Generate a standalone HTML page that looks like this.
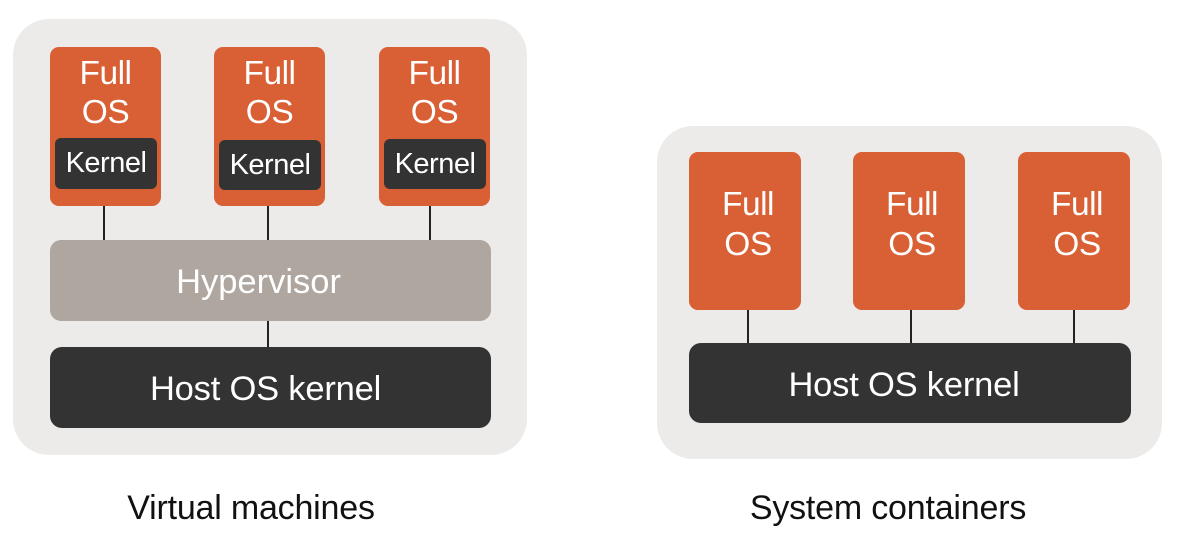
<!DOCTYPE html>
<html><head><style>
body{margin:0;width:1190px;height:538px;background:#fff;position:relative;overflow:hidden;font-family:"Liberation Sans",sans-serif}
div{position:absolute;box-sizing:border-box}
.bg{background:#edebe9;border-radius:36px}
.or{background:#d95f34;border-radius:9px;color:#fff;font-size:33.5px;line-height:39px;text-align:center;letter-spacing:-0.5px}
.k{background:#333;border-radius:6px;color:#fff;font-size:29px;line-height:51px;text-align:center;letter-spacing:-0.5px}
.host{background:#333;border-radius:12px;color:#fff;font-size:34.5px;text-align:center;letter-spacing:-0.2px}
.ln{width:1.5px;background:#222}
.cap{font-size:34px;color:#111;text-align:center;letter-spacing:-0.2px}
</style></head><body>
<div class="bg" style="left:13px;top:19px;width:514px;height:436px"></div>
<div class="ln" style="left:103px;top:200px;height:45px"></div>
<div class="ln" style="left:267px;top:200px;height:45px"></div>
<div class="ln" style="left:429px;top:200px;height:45px"></div>
<div class="ln" style="left:267px;top:318px;height:32px"></div>
<div class="or" style="left:50px;top:47px;width:111px;height:159px;padding-top:7px">Full<br>OS</div>
<div class="k" style="left:55px;top:138px;width:102px;height:51px">Kernel</div>
<div class="or" style="left:214px;top:47px;width:111px;height:159px;padding-top:7px">Full<br>OS</div>
<div class="k" style="left:219px;top:140px;width:102px;height:50px">Kernel</div>
<div class="or" style="left:379px;top:47px;width:111px;height:159px;padding-top:7px">Full<br>OS</div>
<div class="k" style="left:384px;top:139px;width:102px;height:50px">Kernel</div>
<div style="left:50px;top:240px;width:441px;height:81px;background:#aea69f;border-radius:11px;color:#fff;font-size:34.5px;line-height:84px;text-align:center;letter-spacing:0px;padding-right:24px">Hypervisor</div>
<div class="host" style="left:50px;top:347px;width:441px;height:81px;line-height:84px;padding-right:10px">Host OS kernel</div>
<div class="cap" style="left:51px;top:489px;width:400px">Virtual machines</div>

<div class="bg" style="left:657px;top:126px;width:505px;height:333px"></div>
<div class="ln" style="left:747px;top:305px;height:40px"></div>
<div class="ln" style="left:910px;top:305px;height:40px"></div>
<div class="ln" style="left:1073px;top:305px;height:40px"></div>
<div class="or" style="left:689px;top:152px;width:112px;height:158px;padding-top:33px;padding-left:6px;line-height:40px">Full<br>OS</div>
<div class="or" style="left:853px;top:152px;width:112px;height:158px;padding-top:33px;padding-left:6px;line-height:40px">Full<br>OS</div>
<div class="or" style="left:1018px;top:152px;width:112px;height:158px;padding-top:33px;padding-left:6px;line-height:40px">Full<br>OS</div>
<div class="host" style="left:689px;top:343px;width:442px;height:80px;line-height:84px;padding-right:12px">Host OS kernel</div>
<div class="cap" style="left:688px;top:489px;width:400px">System containers</div>
</body></html>
